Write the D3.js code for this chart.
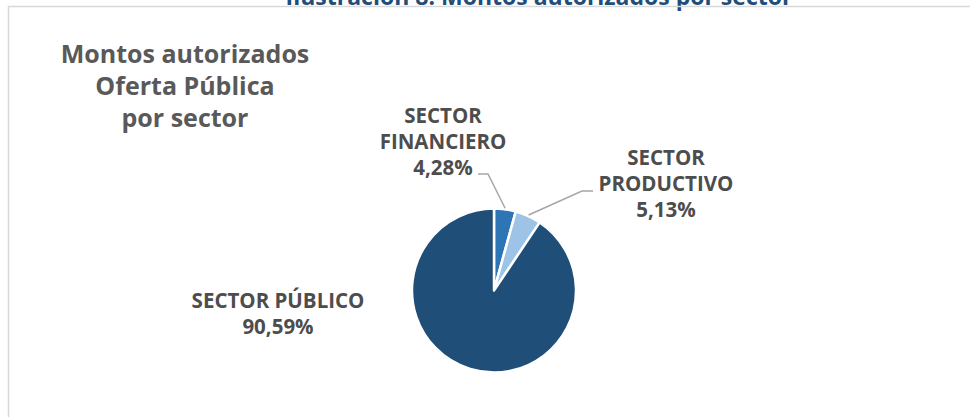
<!DOCTYPE html>
<html>
<head>
<meta charset="utf-8">
<script src="https://cdn.jsdelivr.net/npm/d3@7"></script>
<style>
  html, body { margin: 0; padding: 0; background: #fff; }
  text { font-family: "Open Sans", Roboto, sans-serif; font-weight: bold; }
</style>
</head>
<body>
<div id="main"></div>
<script>

var sectors = ["SECTOR FINANCIERO", "SECTOR PRODUCTIVO", "SECTOR PÚBLICO"]
var shares = [4.28, 5.13, 90.59]
var colors = ["#2E75B6", "#9DC3E6", "#1F4E79"]
var titleLines = ["Montos autorizados", "Oferta Pública", "por sector"]
var caption = "Ilustración 8: Montos autorizados por sector"

var w = 970, h = 417,
	cx = 494, cy = 290.5, r = 82

var svg = d3.select("#main")
	.append("svg")
	.attr("width", w)
	.attr("height", h)

// caption cut off at the top of the picture
svg.append("text")
	.attr("x", 539)
	.attr("y", 4.5)
	.attr("text-anchor", "middle")
	.style("font-size", "23px")
	.style("fill", "#1F4E79")
	.text(caption)

// chart area border (only top and left visible)
svg.append("path")
	.attr("d", "M8.5," + h + "V6.5H" + w)
	.attr("fill", "none")
	.attr("stroke", "#D9D9D9")
	.attr("stroke-width", 1.5)

// title
svg.append("g")
	.selectAll("text")
	.data(titleLines)
	.enter()
	.append("text")
	.attr("x", 185)
	.attr("y", function(d, i) { return 63 + i * 32 })
	.attr("text-anchor", "middle")
	.style("font-size", "25px")
	.style("fill", "#595959")
	.text(function(d) { return d })

var pie = d3.pie().sort(null).value(function(d) { return d })
var arcs = pie(shares)

var arc = d3.arc().innerRadius(0).outerRadius(r)

var g = svg.append("g")
	.attr("transform", "translate(" + cx + "," + cy + ")")

g.selectAll(".slice")
	.data(arcs)
	.enter()
	.append("path")
	.attr("class", "slice")
	.attr("d", arc)
	.attr("fill", function(d, i) { return colors[i] })
	.attr("stroke", "#fff")
	.attr("stroke-width", 2.5)
	.attr("stroke-linejoin", "round")

function fmt(v) { return v.toFixed(2).replace(".", ",") + "%" }

// label layout: lines of each label, its center and first baseline
var labels = [
	{ lines: ["SECTOR", "FINANCIERO", fmt(shares[0])], x: 443, y: 123, elbow: [488, 174], end: [478, 174] },
	{ lines: ["SECTOR", "PRODUCTIVO", fmt(shares[1])], x: 666, y: 165, elbow: [582, 191], end: [593, 191] },
	{ lines: ["SECTOR PÚBLICO", fmt(shares[2])], x: 278, y: 308 }
]

// leader lines from the slice edge
labels.forEach(function(l, i) {
	if (!l.elbow) return
	var a = (arcs[i].startAngle + arcs[i].endAngle) / 2
	var px = cx + Math.sin(a) * (r + 1),
		py = cy - Math.cos(a) * (r + 1)
	svg.append("polyline")
		.attr("points", [[px, py], l.elbow, l.end].map(function(p) { return p.join(",") }).join(" "))
		.attr("fill", "none")
		.attr("stroke", "#A6A6A6")
		.attr("stroke-width", 1.5)
})

labels.forEach(function(l) {
	svg.append("g")
		.selectAll("text")
		.data(l.lines)
		.enter()
		.append("text")
		.attr("x", l.x)
		.attr("y", function(d, i) { return l.y + i * 26 })
		.attr("text-anchor", "middle")
		.style("font-size", "20.5px")
		.style("fill", "#4D4D4D")
		.text(function(d) { return d })
})

</script>
</body>
</html>
